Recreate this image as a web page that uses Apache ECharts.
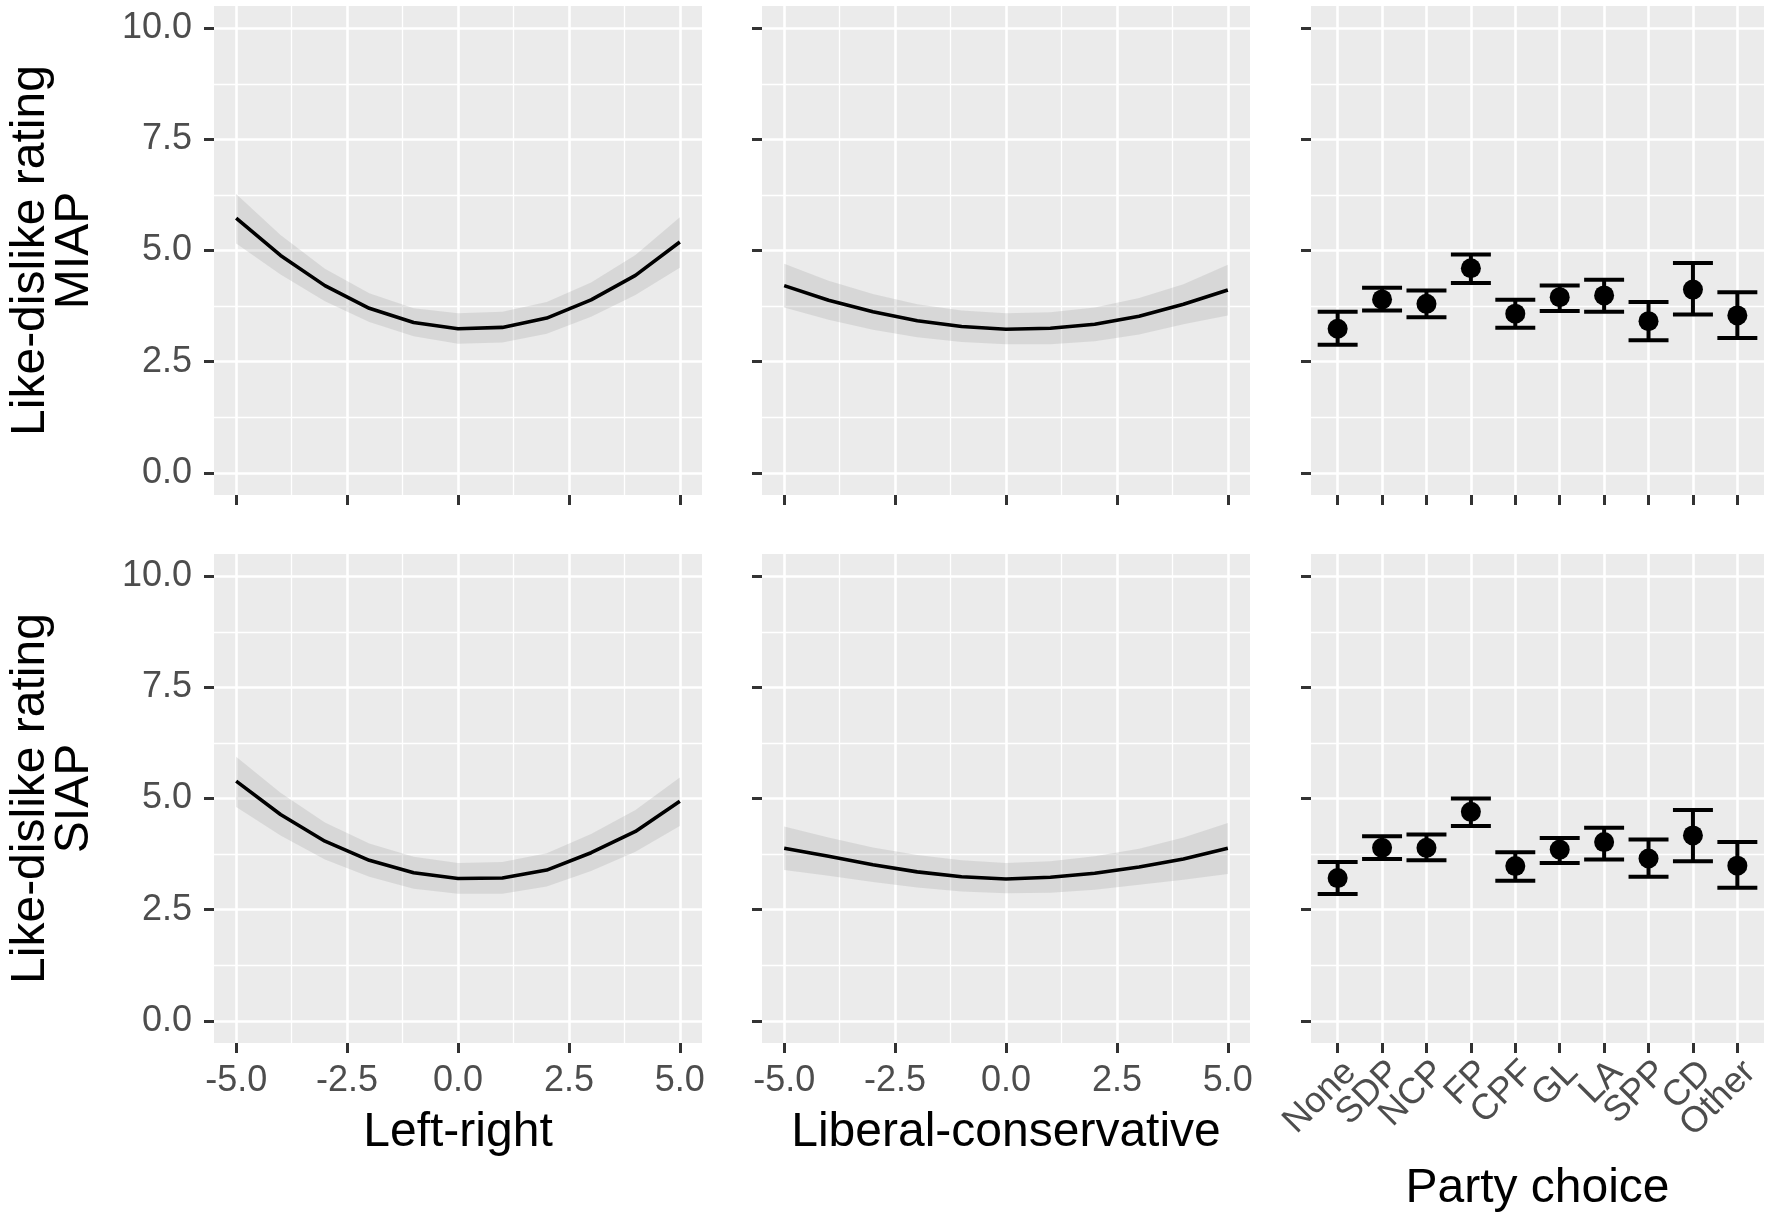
<!DOCTYPE html>
<html><head><meta charset="utf-8">
<script src="https://cdn.jsdelivr.net/npm/echarts@6/dist/echarts.min.js"></script>
<style>html,body{margin:0;padding:0;background:#fff}#c{width:1772px;height:1224px}</style>
</head><body><div id="c"></div>
<script>
// ---- data ----
const xVals = [-5, -4, -3, -2, -1, 0, 1, 2, 3, 4, 5];

const miapLR   = [5.73, 4.89, 4.21, 3.70, 3.38, 3.24, 3.27, 3.48, 3.89, 4.44, 5.19];
const miapLRlo = [5.16, 4.46, 3.86, 3.39, 3.07, 2.90, 2.93, 3.13, 3.51, 4.00, 4.61];
const miapLRhi = [6.27, 5.35, 4.59, 4.04, 3.70, 3.59, 3.62, 3.84, 4.28, 4.90, 5.75];

const miapLC   = [4.21, 3.88, 3.62, 3.42, 3.29, 3.23, 3.25, 3.34, 3.52, 3.79, 4.11];
const miapLClo = [3.72, 3.44, 3.22, 3.05, 2.94, 2.89, 2.89, 2.96, 3.11, 3.34, 3.54];
const miapLChi = [4.70, 4.32, 4.02, 3.79, 3.65, 3.59, 3.61, 3.72, 3.93, 4.24, 4.68];

const siapLR   = [5.39, 4.64, 4.04, 3.61, 3.33, 3.20, 3.21, 3.39, 3.78, 4.26, 4.94];
const siapLRlo = [4.81, 4.17, 3.63, 3.24, 2.97, 2.86, 2.86, 3.02, 3.37, 3.80, 4.38];
const siapLRhi = [5.94, 5.13, 4.46, 3.99, 3.69, 3.55, 3.57, 3.77, 4.20, 4.74, 5.47];

const siapLC   = [3.88, 3.70, 3.51, 3.35, 3.24, 3.19, 3.23, 3.32, 3.46, 3.64, 3.88];
const siapLClo = [3.39, 3.26, 3.12, 3.00, 2.91, 2.87, 2.88, 2.95, 3.06, 3.17, 3.30];
const siapLChi = [4.37, 4.12, 3.90, 3.73, 3.61, 3.55, 3.59, 3.70, 3.87, 4.12, 4.45];

const parties = ['None', 'SDP', 'NCP', 'FP', 'CPF', 'GL', 'LA', 'SPP', 'CD', 'Other'];
const miapPartyMean = [3.24, 3.90, 3.80, 4.60, 3.58, 3.95, 3.99, 3.41, 4.12, 3.54];
const miapPartyLo   = [2.88, 3.65, 3.50, 4.27, 3.26, 3.64, 3.62, 2.98, 3.56, 3.03];
const miapPartyHi   = [3.62, 4.16, 4.10, 4.91, 3.89, 4.21, 4.34, 3.84, 4.72, 4.06];
const siapPartyMean = [3.21, 3.89, 3.89, 4.70, 3.48, 3.85, 4.02, 3.65, 4.17, 3.49];
const siapPartyLo   = [2.85, 3.64, 3.61, 4.38, 3.15, 3.55, 3.63, 3.24, 3.59, 2.99];
const siapPartyHi   = [3.57, 4.15, 4.19, 5.00, 3.79, 4.11, 4.34, 4.08, 4.74, 4.02];

const yTicks = [0, 2.5, 5, 7.5, 10];
const yMinor = [1.25, 3.75, 6.25, 8.75];
const xTicks = [-5, -2.5, 0, 2.5, 5];
const xMinor = [-3.75, -1.25, 1.25, 3.75];
const partyIdx = [0, 1, 2, 3, 4, 5, 6, 7, 8, 9];

const rowNames = ['Like-dislike rating\nMIAP', 'Like-dislike rating\nSIAP'];
const colNames = ['Left-right', 'Liberal-conservative', 'Party choice'];

// ---- layout/style ----
const FONT = '"Liberation Sans", Arial, Helvetica, sans-serif';
const cols = [{left: 214, width: 488}, {left: 762, width: 488}, {left: 1311, width: 453}];
const rows = [{top: 6, height: 489}, {top: 554, height: 489}];
const ribbonColor = 'rgba(153,153,153,0.23)';
const PX_MIN = -0.6, PX_MAX = 9.6;
// label positions for party axis: include empty edge labels so that min/max overlap logic drops only those
const partyLabelVals = [PX_MIN].concat(partyIdx, [PX_MAX]);

const grid = [], xAxis = [], yAxis = [], series = [];
const curves = [
  [[miapLR, miapLRlo, miapLRhi], [miapLC, miapLClo, miapLChi]],
  [[siapLR, siapLRlo, siapLRhi], [siapLC, siapLClo, siapLChi]]
];
const partyData = [[miapPartyMean, miapPartyLo, miapPartyHi], [siapPartyMean, siapPartyLo, siapPartyHi]];

const tickStyle = {color: '#333333', width: 3};
const labelStyle = {fontSize: 36, color: '#4D4D4D', fontFamily: FONT};
const hiddenLine = {show: true, onZero: false, lineStyle: {color: 'rgba(0,0,0,0)', width: 1}};
const gl = (axis, v, major) => ({[axis]: v, lineStyle: {color: '#ffffff', width: major ? 2.6 : 1.3, type: 'solid', opacity: 1}});
const partyFmt = v => {
  const k = Math.round(v);
  return (Math.abs(v - k) < 1e-6 && k >= 0 && k < parties.length) ? parties[k] : '';
};

for (let r = 0; r < 2; r++) {
  for (let c = 0; c < 3; c++) {
    const g = r * 3 + c;
    const bottom = r === 1;
    const isParty = c === 2;
    grid.push({left: cols[c].left, width: cols[c].width, top: rows[r].top, height: rows[r].height,
      show: true, backgroundColor: '#EBEBEB', borderWidth: 0, containLabel: false});
    const xt = isParty ? partyIdx : xTicks;
    const xLabel = isParty ? {
      show: bottom, customValues: partyLabelVals, hideOverlap: false,
      margin: 11, rotate: 45, verticalAlign: 'top',
      formatter: partyFmt
    } : {
      show: bottom, customValues: xTicks, margin: 20,
      formatter: v => Number(v).toFixed(1)
    };
    xAxis.push({
      type: 'value', gridIndex: g, position: 'bottom',
      min: isParty ? PX_MIN : -5.5, max: isParty ? PX_MAX : 5.5,
      axisLine: hiddenLine,
      splitLine: {show: false},
      axisTick: {show: true, inside: false, length: 10, lineStyle: tickStyle, customValues: xt},
      axisLabel: Object.assign(xLabel, labelStyle),
      name: bottom ? colNames[c] : '',
      nameLocation: 'middle',
      nameGap: isParty ? 122 : 66,
      nameTextStyle: {fontSize: 48, color: '#000', fontFamily: FONT}
    });
    yAxis.push({
      type: 'value', gridIndex: g, position: 'left', min: -0.5, max: 10.5,
      axisLine: hiddenLine,
      splitLine: {show: false},
      axisTick: {show: true, inside: false, length: 10, lineStyle: tickStyle, customValues: yTicks},
      axisLabel: Object.assign({
        show: c === 0, customValues: yTicks, margin: 22,
        showMinLabel: true, showMaxLabel: true,
        formatter: v => Number(v).toFixed(1)
      }, labelStyle),
      name: c === 0 ? rowNames[r] : '',
      nameLocation: 'middle', nameRotate: 90, nameGap: 117,
      nameTextStyle: {fontSize: 48, lineHeight: 44, color: '#000', fontFamily: FONT, align: 'center'}
    });

    // gridlines
    const lines = [];
    yMinor.forEach(v => lines.push(gl('yAxis', v, false)));
    if (!isParty) xMinor.forEach(v => lines.push(gl('xAxis', v, false)));
    yTicks.forEach(v => lines.push(gl('yAxis', v, true)));
    xt.forEach(v => lines.push(gl('xAxis', v, true)));
    series.push({
      type: 'line', xAxisIndex: g, yAxisIndex: g, z: 1,
      data: [[0, 0]], showSymbol: false, symbol: 'none', lineStyle: {width: 0, opacity: 0},
      silent: true,
      markLine: {z: 1, silent: true, symbol: 'none', label: {show: false}, emphasis: {disabled: true},
        animation: false, data: lines}
    });

    if (!isParty) {
      const [mean, lo, hi] = curves[r][c];
      // confidence ribbon as one polygon through the axes' scales
      series.push({
        type: 'custom', xAxisIndex: g, yAxisIndex: g, z: 3, silent: true,
        encode: {x: 0, y: [1, 2]},
        data: xVals.map((x, i) => [x, lo[i], hi[i]]),
        renderItem: (params, api) => {
          if (params.dataIndexInside !== 0) return null;
          const n = params.dataInsideLength;
          const up = [], dn = [];
          for (let j = 0; j < n; j++) {
            const xv = api.value(0, j);
            dn.push(api.coord([xv, api.value(1, j)]));
            up.push(api.coord([xv, api.value(2, j)]));
          }
          return {type: 'polygon', shape: {points: dn.concat(up.reverse())},
            style: {fill: ribbonColor, stroke: null}};
        }
      });
      series.push({
        type: 'line', xAxisIndex: g, yAxisIndex: g, z: 4,
        data: xVals.map((x, i) => [x, mean[i]]), symbol: 'none',
        lineStyle: {color: '#000', width: 3.6, join: 'round'}, silent: true
      });
    } else {
      const [mean, lo, hi] = partyData[r];
      series.push({
        type: 'custom', xAxisIndex: g, yAxisIndex: g, z: 4, silent: true,
        encode: {x: 0, y: [1, 2]},
        data: partyIdx.map(i => [i, lo[i], hi[i]]),
        renderItem: (params, api) => {
          const x = api.value(0);
          const pLo = api.coord([x, api.value(1)]);
          const pHi = api.coord([x, api.value(2)]);
          const hw = api.size([0.9, 0])[0] / 2;
          const st = {stroke: '#000', lineWidth: 4};
          return {type: 'group', children: [
            {type: 'line', shape: {x1: pLo[0], y1: pLo[1], x2: pHi[0], y2: pHi[1]}, style: st},
            {type: 'line', shape: {x1: pLo[0] - hw, y1: pLo[1], x2: pLo[0] + hw, y2: pLo[1]}, style: st},
            {type: 'line', shape: {x1: pHi[0] - hw, y1: pHi[1], x2: pHi[0] + hw, y2: pHi[1]}, style: st}
          ]};
        }
      });
      series.push({
        type: 'scatter', xAxisIndex: g, yAxisIndex: g, z: 5, silent: true,
        data: partyIdx.map(i => [i, mean[i]]), symbol: 'circle', symbolSize: 20,
        itemStyle: {color: '#000', opacity: 1}
      });
    }
  }
}

const chart = echarts.init(document.getElementById('c'), null, {renderer: 'canvas'});
chart.setOption({animation: false, backgroundColor: '#ffffff', grid, xAxis, yAxis, series});
</script></body></html>
